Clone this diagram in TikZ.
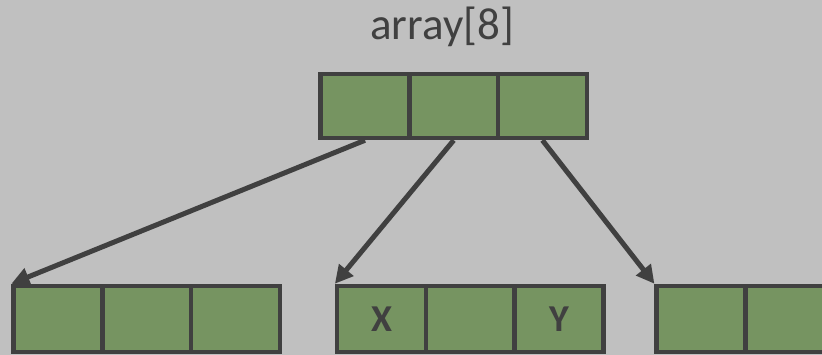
\documentclass[tikz,border=0pt]{standalone}
\usepackage{fontspec}
\setmainfont{Carlito}
\usetikzlibrary{arrows.meta}
\definecolor{bg}{HTML}{C0C0C0}
\definecolor{cellgreen}{HTML}{769461}
\definecolor{ink}{HTML}{404040}
\tikzset{
  cell/.style={draw=ink, fill=cellgreen, line width=4.5pt, minimum width=88.7pt,
    minimum height=64pt, inner sep=0pt, font=\fontsize{38}{38}\selectfont\bfseries, text=ink},
  ptr/.style={draw=ink, line width=5pt, -{Triangle[length=18pt,width=18pt]}}
}
\begin{document}
\begin{tikzpicture}[x=1pt,y=-1pt]
  \useasboundingbox (0,0) rectangle (822,355);
  \fill[bg] (0,0) rectangle (822,355);
  \clip (0,0) rectangle (822,355);

  % title
  \node[text=ink, font=\fontsize{45}{45}\selectfont] (title) at (442,27) {array[8]};

  % outer array
  \node[cell] (t1) at (365,106) {};
  \node[cell] (t2) at (453.7,106) {};
  \node[cell] (t3) at (542.4,106) {};

  % inner arrays
  \node[cell, minimum height=66pt] (a1) at (58,319) {};
  \node[cell, minimum height=66pt] (a2) at (146.7,319) {};
  \node[cell, minimum height=66pt] (a3) at (235.4,319) {};

  \node[cell, minimum height=66pt] (b1) at (381.5,319) {X};
  \node[cell, minimum height=66pt] (b2) at (470.2,319) {};
  \node[cell, minimum height=66pt] (b3) at (558.9,319) {Y};

  \node[cell, minimum height=66pt] (c1) at (701,319) {};
  \node[cell, minimum height=66pt] (c2) at (789.7,319) {};
  \node[cell, minimum height=66pt] (c3) at (878.4,319) {};

  % pointers
  \draw[ptr] (t1.south) -- (a1.north west);
  \draw[ptr] (t2.south) -- (b1.north west);
  \draw[ptr] (t3.south) -- (c1.north west);
\end{tikzpicture}
\end{document}
